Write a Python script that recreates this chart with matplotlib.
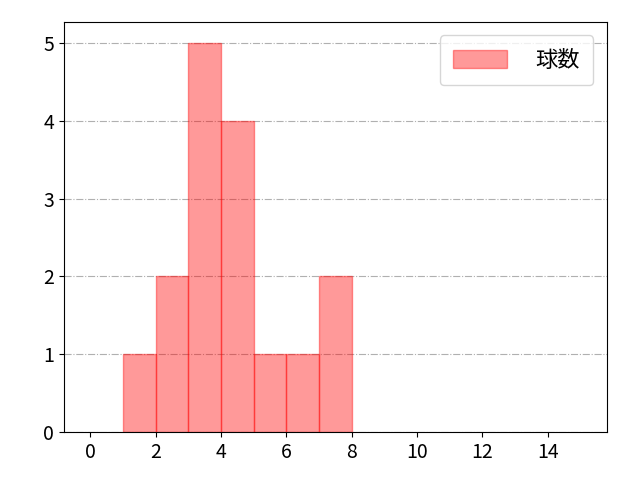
import matplotlib
matplotlib.use('Agg')
import matplotlib.pyplot as plt

plt.rcParams['font.family'] = ['Noto Sans CJK JP', 'DejaVu Sans']

# bin left edges and counts
bin_left = [1, 2, 3, 4, 5, 6, 7]
counts = [1, 2, 5, 4, 1, 1, 2]
label = '球数'

fig, ax = plt.subplots(figsize=(6.4, 4.8), dpi=100)
ax.bar(bin_left, counts, width=1, align='edge', color='red', alpha=0.4,
       edgecolor='red', linewidth=1, label=label)
ax.set_xlim(-0.8, 15.8)
ax.set_ylim(0, 5.27)
ax.set_xticks(range(0, 15, 2))
ax.set_yticks(range(0, 6))
ax.grid(axis='y', linestyle='-.', color='#b0b0b0')
ax.set_axisbelow(True)
ax.tick_params(labelsize=14)
ax.legend(loc='upper right', fontsize=16, handlelength=2.4, handleheight=0.9,
          handletextpad=1.3, borderpad=0.6, borderaxespad=0.6)
fig.subplots_adjust(left=0.1, right=0.948, top=0.954, bottom=0.1)
fig.savefig('out.png')
